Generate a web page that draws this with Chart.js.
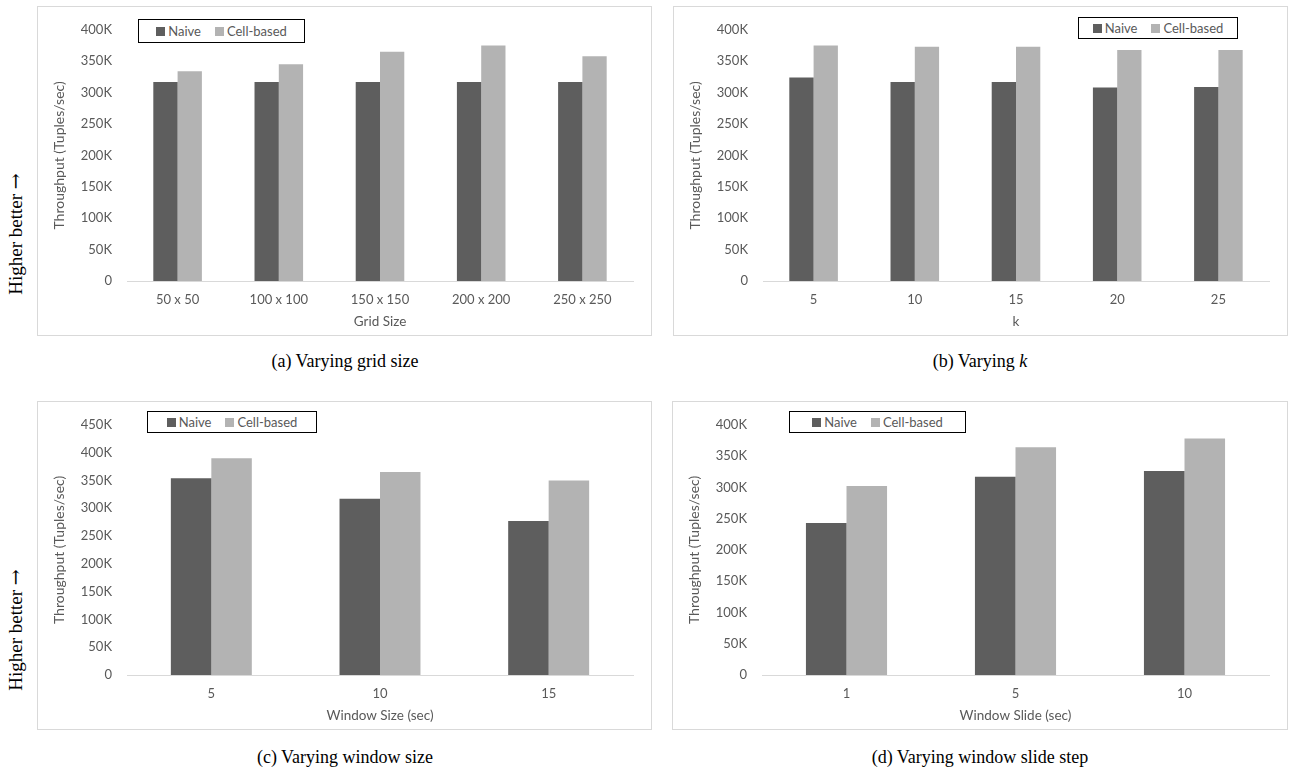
<!DOCTYPE html>
<html>
<head>
<meta charset="utf-8">
<script src="https://cdn.jsdelivr.net/npm/chart.js@4.4.1/dist/chart.umd.min.js"></script>
<style>
  body { margin: 0; background: #fff; }
  #page { position: relative; width: 1289px; height: 773px; background: #fff; overflow: hidden; }
  .panel { position: absolute; border: 1px solid #d9d9d9; box-sizing: border-box; background: #fff; }
  .panel canvas { position: absolute; left: 0; top: 0; }
  .legend { position: absolute; border: 1.5px solid #000; box-sizing: border-box; background: #fff;
            display: flex; align-items: center; justify-content: center; gap: 14px;
            font: 13px Lato, sans-serif; color: #595959; }
  .legend span { display: flex; align-items: center; }
  .legend i { display: inline-block; width: 9px; height: 9px; margin-right: 3px; }
  .caption { position: absolute; font: 18px "Liberation Serif", serif; color: #000; transform: translate(-50%, -50%); white-space: nowrap; }
  .side { position: absolute; font: 19px "Liberation Serif", serif; color: #000; white-space: nowrap;
          transform: translate(-50%, -50%) rotate(-90deg); }
  .side b { font: 19px "DejaVu Serif", serif; font-weight: normal; }
</style>
</head>
<body>
<div id="page">
  <div class="side" style="left:15px; top:234px;">Higher better <b>&rarr;</b></div>
  <div class="side" style="left:15px; top:630px;">Higher better <b>&rarr;</b></div>

  <div class="panel" style="left:37px; top:6px; width:615px; height:330px;"><canvas id="chartA" width="613" height="328"></canvas></div>
  <div class="panel" style="left:673px; top:6px; width:615px; height:330px;"><canvas id="chartB" width="613" height="328"></canvas></div>
  <div class="panel" style="left:37px; top:401px; width:615px; height:329px;"><canvas id="chartC" width="613" height="327"></canvas></div>
  <div class="panel" style="left:672px; top:401px; width:616px; height:329px;"><canvas id="chartD" width="614" height="327"></canvas></div>

  <div class="legend" style="left:138px; top:19px; width:167px; height:24px;"><span><i style="background:#5e5e5e"></i>Naive</span><span><i style="background:#b3b3b3"></i>Cell-based</span></div>
  <div class="legend" style="left:1078px; top:17px; width:160px; height:22px;"><span><i style="background:#5e5e5e"></i>Naive</span><span><i style="background:#b3b3b3"></i>Cell-based</span></div>
  <div class="legend" style="left:147px; top:411px; width:170px; height:22px;"><span><i style="background:#5e5e5e"></i>Naive</span><span><i style="background:#b3b3b3"></i>Cell-based</span></div>
  <div class="legend" style="left:789px; top:411px; width:177px; height:22px;"><span><i style="background:#5e5e5e"></i>Naive</span><span><i style="background:#b3b3b3"></i>Cell-based</span></div>

  <div class="caption" style="left:345px; top:361px;">(a) Varying grid size</div>
  <div class="caption" style="left:980px; top:361px;">(b) Varying <i>k</i></div>
  <div class="caption" style="left:345px; top:757px;">(c) Varying window size</div>
  <div class="caption" style="left:980px; top:757px;">(d) Varying window slide step</div>
</div>
<script>
// (a) grid size
const gridLabels = ['50 x 50', '100 x 100', '150 x 150', '200 x 200', '250 x 250'];
const gridNaive = [317000, 317000, 317000, 317000, 317000];
const gridCell = [334000, 345000, 365000, 375000, 358000];

// (b) k
const kLabels = ['5', '10', '15', '20', '25'];
const kNaive = [324000, 317000, 317000, 308000, 309000];
const kCell = [375000, 373000, 373000, 368000, 368000];

// (c) window size
const sizeLabels = ['5', '10', '15'];
const sizeNaive = [354000, 317000, 277000];
const sizeCell = [390000, 365000, 350000];

// (d) window slide
const slideLabels = ['1', '5', '10'];
const slideNaive = [243000, 317000, 326000];
const slideCell = [302000, 364000, 378000];

const NAIVE_COLOR = '#5e5e5e';
const CELL_COLOR = '#b3b3b3';
const TEXT_COLOR = '#595959';
const FONT = 'Lato, sans-serif';

function drawPanel(id, labels, naive, cell, yMax, xTitle, padTop) {
    const ctx = document.getElementById(id).getContext('2d');
    new Chart(ctx, {
        type: 'bar',
        data: {
            labels: labels,
            datasets: [
                { label: 'Naive', data: naive, backgroundColor: NAIVE_COLOR, categoryPercentage: 0.48, barPercentage: 1 },
                { label: 'Cell-based', data: cell, backgroundColor: CELL_COLOR, categoryPercentage: 0.48, barPercentage: 1 },
            ],
        },
        options: {
            responsive: false,
            animation: false,
            layout: { padding: { left: 9, right: 18, top: padTop, bottom: 1 } },
            plugins: { legend: { display: false }, tooltip: { enabled: false } },
            scales: {
                x: {
                    grid: { display: false, drawTicks: false },
                    border: { color: '#d9d9d9', width: 1 },
                    ticks: { color: TEXT_COLOR, font: { family: FONT, size: 13 }, padding: 11 },
                    title: { display: true, text: xTitle, color: TEXT_COLOR, font: { family: FONT, size: 13.5 }, padding: 4 },
                    afterFit: s => { s.height = 53; },
                },
                y: {
                    min: 0,
                    max: yMax,
                    grid: { display: false, drawTicks: false },
                    border: { display: false },
                    ticks: {
                        stepSize: 50000,
                        color: TEXT_COLOR,
                        font: { family: FONT, size: 13 },
                        padding: 15,
                        callback: v => v === 0 ? '0' : (v / 1000) + 'K',
                    },
                    title: { display: true, text: 'Throughput (Tuples/sec)', color: TEXT_COLOR, font: { family: FONT, size: 14 }, padding: 4 },
                    afterFit: s => { s.width = 80; },
                },
            },
        },
    });
}

drawPanel('chartA', gridLabels, gridNaive, gridCell, 400000, 'Grid Size', 17);
drawPanel('chartB', kLabels, kNaive, kCell, 400000, 'k', 17);
drawPanel('chartC', sizeLabels, sizeNaive, sizeCell, 450000, 'Window Size (sec)', 15);
drawPanel('chartD', slideLabels, slideNaive, slideCell, 400000, 'Window Slide (sec)', 15);
</script>
</body>
</html>
